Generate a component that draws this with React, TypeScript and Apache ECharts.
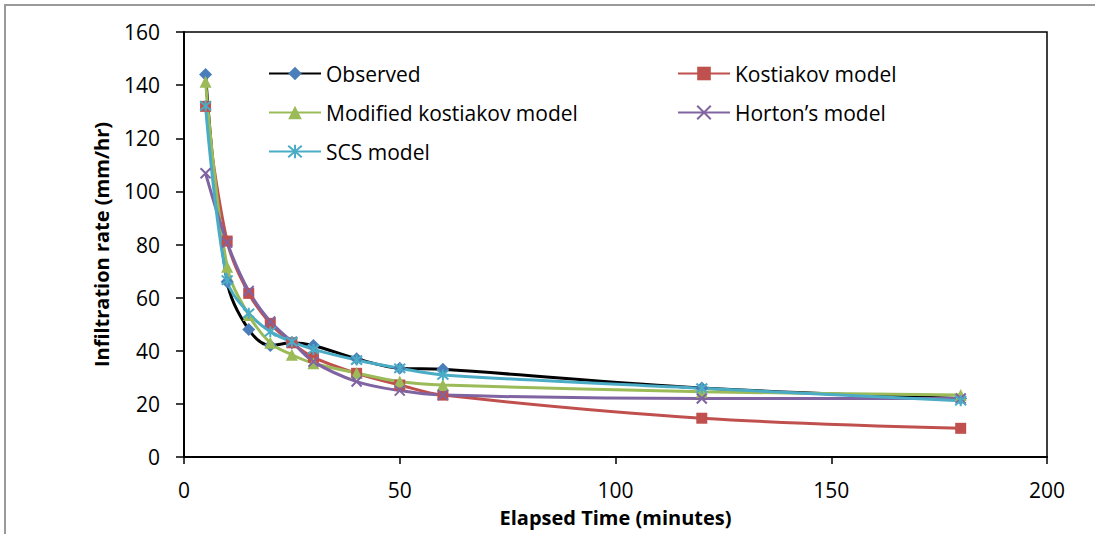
import React, { useEffect, useRef } from "react";
import * as echarts from "echarts";

const time = [5, 10, 15, 20, 25, 30, 40, 50, 60, 120, 180];
const observed = [144, 66, 48, 42, 43, 42, 37, 33.4, 33, 26, 22];
const kostiakov = [132, 81.3, 61.6, 50.3, 43, 37.5, 31.5, 27.1, 23.3, 14.6, 10.8];
const modified = [141.3, 71.6, 53.5, 43, 38.5, 35.3, 31.6, 28.4, 27.1, 24.6, 23.3];
const horton = [106.8, 80.7, 62.5, 51, 43.4, 35.9, 28.4, 25, 23.3, 22, 22];
const scs = [132.2, 66.6, 54.1, 47.2, 43.4, 40.5, 36.5, 33.4, 30.9, 25.9, 21.2];

const xTicks = [0, 50, 100, 150, 200];
const yTicks = [0, 20, 40, 60, 80, 100, 120, 140, 160];

const FONT = "'Open Sans', 'Noto Sans', sans-serif";

const pairs = (vals: number[]) => time.map((t, i) => [t, vals[i]]);

export default function App() {
  const ref = useRef<HTMLDivElement>(null);
  useEffect(() => {
    document.body.style.margin = "0";
    const chart = echarts.init(ref.current!, null, { renderer: "svg" });
    const smooth = 0.35;
    const mk = (
      name: string,
      vals: number[],
      lineColor: string,
      markColor: string,
      symbol: string,
      size: number,
      stroke = false
    ) => ({
      name,
      type: "line",
      data: pairs(vals),
      smooth,
      symbol,
      symbolSize: size,
      showAllSymbol: true,
      lineStyle: { color: lineColor, width: 3 },
      itemStyle: stroke
        ? { color: markColor, borderColor: markColor, borderWidth: 2 }
        : { color: markColor, borderWidth: 0 },
      emphasis: { disabled: true },
    });
    const legendCommon = {
      orient: "vertical",
      itemWidth: 52,
      itemHeight: 17,
      itemGap: 18,
      textStyle: { fontFamily: FONT, fontSize: 21, color: "#000" },
    };
    chart.setOption({
      animation: false,
      backgroundColor: "#fff",
      textStyle: { fontFamily: FONT },
      graphic: [
        {
          type: "rect",
          shape: { x: 5, y: 5, width: 1300, height: 800 },
          style: { fill: "none", stroke: "#9a9a9a", lineWidth: 2 },
          silent: true,
        },
      ],
      grid: {
        left: 184,
        top: 32,
        right: 48,
        bottom: 77,
        show: true,
        borderColor: "#000",
        borderWidth: 1.5,
      },
      legend: [
        {
          ...legendCommon,
          left: 263,
          top: 58,
          data: ["Observed", "Modified kostiakov model", "SCS model"],
        },
        {
          ...legendCommon,
          left: 672,
          top: 58,
          data: ["Kostiakov model", "Horton\u2019s model"],
        },
      ],
      xAxis: {
        type: "value",
        min: 0,
        max: 200,
        interval: 50,
        name: "Elapsed Time (minutes)",
        nameLocation: "middle",
        nameGap: 50,
        nameTextStyle: { fontFamily: FONT, fontSize: 20, fontWeight: "bold", color: "#000" },
        axisLine: { lineStyle: { color: "#000", width: 2 } },
        axisTick: { show: true, length: 7, lineStyle: { color: "#000", width: 1.5 } },
        axisLabel: {
          fontFamily: FONT,
          fontSize: 21,
          color: "#000",
          margin: 22,
          formatter: (v: number) => (xTicks.includes(v) ? String(v) : ""),
        },
        splitLine: { show: false },
      },
      yAxis: {
        type: "value",
        min: 0,
        max: 160,
        interval: 20,
        name: "Infiltration rate (mm/hr)",
        nameLocation: "middle",
        nameGap: 73,
        nameTextStyle: { fontFamily: FONT, fontSize: 20, fontWeight: "bold", color: "#000" },
        axisLine: { show: true, lineStyle: { color: "#000", width: 2 } },
        axisTick: { show: true, length: 8, lineStyle: { color: "#000", width: 1.5 } },
        axisLabel: {
          fontFamily: FONT,
          fontSize: 21,
          color: "#000",
          margin: 24,
          formatter: (v: number) => (yTicks.includes(v) ? String(v) : ""),
        },
        splitLine: { show: false },
      },
      series: [
        mk("Observed", observed, "#000000", "#4A7EBB", "diamond", 13),
        mk("Kostiakov model", kostiakov, "#C0504D", "#C0504D", "rect", 11),
        mk("Modified kostiakov model", modified, "#9BBB59", "#9BBB59", "triangle", 12),
        mk("Horton\u2019s model", horton, "#8064A2", "#8064A2", "path://M0,0L10,10M10,0L0,10", 10, true),
        mk("SCS model", scs, "#4BACC6", "#4BACC6", "path://M0,0L10,10M10,0L0,10M5,-1L5,11", 11, true),
      ],
    });
    return () => chart.dispose();
  }, []);
  return (
    <div
      ref={ref}
      style={{ position: "absolute", left: 0, top: 0, width: 1095, height: 534 }}
    />
  );
}
